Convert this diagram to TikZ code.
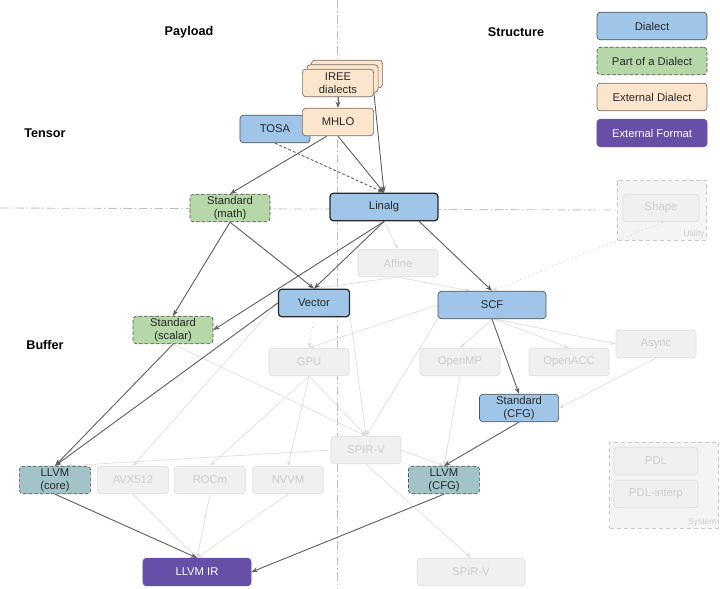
\documentclass[tikz,border=0pt]{standalone}
\usepackage{fontspec}
\setmainfont{Liberation Sans}
\usepackage{tikz}
\usetikzlibrary{arrows.meta, positioning, backgrounds}
\usepackage{xcolor}
\definecolor{zblue}{RGB}{159, 197, 232}
\definecolor{zgreen}{RGB}{182, 215, 168}
\definecolor{zpeach}{RGB}{252, 229, 205}
\definecolor{zpeachline}{RGB}{120, 110, 100}
\definecolor{zpurple}{RGB}{103, 78, 167}
\definecolor{zteal}{RGB}{162, 196, 201}
\definecolor{zline}{RGB}{85, 85, 85}
\definecolor{zdark}{RGB}{40, 40, 40}
\definecolor{ztext}{RGB}{40, 40, 40}
\definecolor{zgray}{RGB}{95, 95, 95}
\definecolor{zfadefill}{RGB}{240, 240, 240}
\definecolor{zfadeline}{RGB}{222, 222, 222}
\definecolor{zfadetext}{RGB}{205, 205, 205}
\definecolor{zgroupfill}{RGB}{244, 244, 244}
\definecolor{zgroupline}{RGB}{200, 200, 200}
\definecolor{zdivider}{RGB}{190, 190, 190}

\begin{document}
\begin{tikzpicture}[
  x=0.025cm, y=-0.025cm,
  every node/.style={inner sep=1pt, font=\fontsize{8}{9.5}\selectfont, text=ztext},
  box/.style={rectangle, rounded corners=2.5pt, draw=zline, line width=0.5pt,
              align=center, minimum height=0.69cm, minimum width=#1},
  box/.default=1.78cm,
  dialect/.style={box=#1, fill=zblue},
  dialect/.default=1.78cm,
  core/.style={dialect=#1, draw=zdark, line width=0.9pt},
  core/.default=2.7cm,
  partof/.style={box=#1, fill=zgreen, dash pattern=on 2.5pt off 1.5pt},
  partof/.default=2cm,
  llvmpart/.style={box=#1, fill=zteal, dash pattern=on 2.5pt off 1.5pt},
  llvmpart/.default=1.78cm,
  extdialect/.style={box=#1, fill=zpeach, draw=zpeachline},
  extdialect/.default=1.78cm,
  extformat/.style={box=#1, fill=zpurple, draw=zpurple, text=white},
  extformat/.default=2.7cm,
  faded/.style={box=#1, fill=zfadefill, draw=zfadeline, text=zfadetext},
  faded/.default=1.78cm,
  groupbox/.style={rectangle, draw=zgroupline, fill=zgroupfill,
                   dash pattern=on 3pt off 2pt, minimum width=#1},
  grouplbl/.style={font=\fontsize{6}{7}\selectfont, text=zfadetext, inner sep=1.5pt},
  lanelbl/.style={font=\fontsize{9}{11}\selectfont\bfseries, text=black},
  fwd/.style={-{Stealth[length=4.5pt, width=3.5pt]}, draw=zgray, line width=0.65pt},
  fade/.style={-{Stealth[length=4pt, width=3pt]}, draw=zfadeline, line width=0.5pt},
  divider/.style={draw=zdivider, line width=0.6pt,
                  dash pattern=on 6pt off 2pt on 1pt off 2pt}
]
\useasboundingbox (0,0) rectangle (720,588);

% Lanes
\node[lanelbl] (payload)   at (189,32)  {Payload};
\node[lanelbl] (structure) at (516,32)  {Structure};
\node[lanelbl] (tensor)    at (45,133)  {Tensor};
\node[lanelbl] (buffer)    at (45,345)  {Buffer};

% Legend
\node[dialect=2.75cm]    (lgdialect) at (652,26)  {Dialect};
\node[partof=2.75cm]     (lgpart)    at (652,61)  {Part of a Dialect};
\node[extdialect=2.75cm] (lgext)     at (652,97)  {External Dialect};
\node[extformat=2.75cm]  (lgfmt)     at (652,133) {External Format};

% Groups
\node[groupbox=2.22cm, minimum height=1.5cm] (utility) at (662,210) {};
\node[grouplbl, anchor=south east] at (utility.south east) {Utility};
\node[groupbox=2.72cm, minimum height=2.15cm] (system) at (664,485) {};
\node[grouplbl, anchor=south east] at (system.south east) {System};

% Tensor
\node[dialect=1.75cm] (tosa)     at (275,129)   {TOSA};
\node[extdialect]     (ireeback) at (347,74)    {};
\node[extdialect]     (ireemid)  at (342.5,78.5) {};
\node[extdialect]     (iree)     at (338,83)    {IREE\\dialects};
\node[extdialect]     (mhlo)     at (338,122)   {MHLO};
\node[partof]         (math)     at (230,208)   {Standard\\(math)};
\node[core]           (linalg)   at (384,207)   {Linalg};
\node[faded=1.9cm]    (shape)    at (661,208)   {Shape};

% Buffer
\node[faded=2cm]       (affine)   at (398,263) {Affine};
\node[core=1.78cm]     (vector)   at (314,303) {Vector};
\node[dialect=2.7cm]   (scf)      at (492,305) {SCF};
\node[partof]          (scalar)   at (173,330) {Standard\\(scalar)};
\node[faded=2cm]       (gpu)      at (309,362) {GPU};
\node[faded=2cm]       (openmp)   at (460,362) {OpenMP};
\node[faded=2cm]       (openacc)  at (569,362) {OpenACC};
\node[faded=2cm]       (async)    at (656,344) {Async};
\node[dialect=1.98cm]  (stdcfg)   at (519,408) {Standard\\(CFG)};
\node[faded=1.75cm]    (spirv)    at (366,450) {SPIR-V};
\node[llvmpart]        (llvmcore) at (55,480)  {LLVM\\(core)};
\node[faded]           (avx)      at (133,480) {AVX512};
\node[faded]           (rocm)     at (210,480) {ROCm};
\node[faded]           (nvvm)     at (288,480) {NVVM};
\node[llvmpart]        (llvmcfg)  at (444,480) {LLVM\\(CFG)};
\node[extformat]       (llvmir)   at (197,572) {LLVM IR};
\node[faded=2.7cm]     (spirvout) at (471,572) {SPIR-V};
\node[faded=2.1cm]     (pdl)      at (656,461) {PDL};
\node[faded=2.1cm]     (pdlinterp) at (656,494) {PDL-interp};

\begin{scope}[on background layer]
% Dividers
\draw[divider] (337,0) -- (337,588);
\draw[divider] (0,208) -- (utility.west);

% Faded lowerings
\draw[fade] (linalg.south) -- (affine.north);
\draw[fade] (affine.south) -- (vector.north);
\draw[fade] (affine.south) -- ([xshift=-0.55cm]scf.north);
\draw[fade, dash pattern=on 1.5pt off 1.5pt] (vector.south) -- (gpu.north);
\draw[fade] (scf.west) -- (gpu.north);
\draw[fade] (scf.south) -- (openmp.north);
\draw[fade] ([xshift=0.05cm]scf.south) -- (openacc.north);
\draw[fade] ([xshift=0.1cm]scf.south) -- (async.west);
\draw[fade] (async.south) -- (stdcfg.east);
\draw[fade] (vector.south east) -- (spirv.north);
\draw[fade] (scf.south west) -- (spirv.north);
\draw[fade] (gpu.south) -- (spirv.north);
\draw[fade] (scalar.south) -- (spirv.north);
\draw[fade] (vector.west) -- (avx.north);
\draw[fade] (gpu.south) -- (rocm.north);
\draw[fade] (gpu.south) -- (nvvm.north);
\draw[fade] (spirv.west) -- ([xshift=0.3cm]llvmcore.north);
\draw[fade] (spirv.east) -- (llvmcfg.north);
\draw[fade] (openmp.south) -- (llvmcfg.north);
\draw[fade] (spirv.south) -- (spirvout.north);
\draw[fade] (avx.south) -- (llvmir.north);
\draw[fade] (rocm.south) -- (llvmir.north);
\draw[fade] (nvvm.south) -- (llvmir.north);

% Main lowerings
\draw[fwd] (iree.south) -- (mhlo.north);
\draw[fwd] ([yshift=0.1cm]iree.south east) -- (linalg.north);
\draw[fwd] (mhlo.south) -- (linalg.north);
\draw[fwd, dash pattern=on 2pt off 1.5pt] (tosa.south) -- (linalg.north);
\draw[fwd] ([xshift=-0.28cm]mhlo.south) -- (math.north);
\draw[fwd] (math.south) -- (vector.north);
\draw[fwd] (math.south) -- (scalar.north);
\draw[fwd] (linalg.south) -- (vector.north);
\draw[fwd] (linalg.south) -- (scalar.east);
\draw[fwd] ([xshift=0.88cm]linalg.south) -- (scf.north);
\draw[fwd] (vector.west) -- (llvmcore.north);
\draw[fwd] (scalar.south) -- (llvmcore.north);
\draw[fwd] (scf.south) -- (stdcfg.north);
\draw[fwd] (stdcfg.south) -- (llvmcfg.north);
\draw[fwd] (llvmcore.south) -- (llvmir.north);
\draw[fwd] (llvmcfg.south) -- (llvmir.east);
\end{scope}

\draw[fade, dash pattern=on 1.5pt off 1.5pt] ([xshift=0.05cm]shape.south) -- (scf.north);

\end{tikzpicture}
\end{document}
